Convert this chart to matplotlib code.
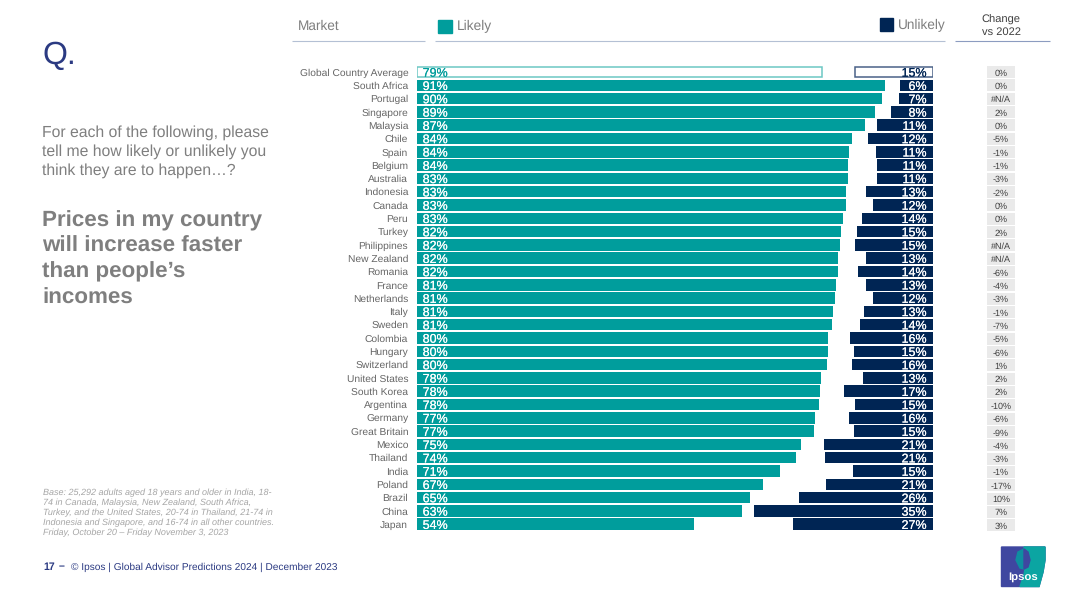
import matplotlib
matplotlib.use('Agg')
import matplotlib.pyplot as plt
import matplotlib.patheffects as pe
from matplotlib.patches import Polygon, Rectangle

plt.rcParams['font.family'] = ['Liberation Sans', 'DejaVu Sans']
plt.rcParams['text.hinting'] = 'no_hinting'
plt.rcParams['text.hinting_factor'] = 8

markets = ['Global Country Average', 'South Africa', 'Portugal', 'Singapore', 'Malaysia', 'Chile', 'Spain',
           'Belgium', 'Australia', 'Indonesia', 'Canada', 'Peru', 'Turkey', 'Philippines', 'New Zealand',
           'Romania', 'France', 'Netherlands', 'Italy', 'Sweden', 'Colombia', 'Hungary', 'Switzerland',
           'United States', 'South Korea', 'Argentina', 'Germany', 'Great Britain', 'Mexico', 'Thailand',
           'India', 'Poland', 'Brazil', 'China', 'Japan']

# bar lengths, they are a bit finer than the printed labels
likely = [78.8, 91.05, 90.5, 89.1, 87.2, 84.6, 84.0, 83.9, 83.9, 83.5, 83.5, 82.9, 82.5, 82.3, 81.9,
          81.9, 81.5, 81.3, 80.9, 80.7, 80.0, 80.0, 79.8, 78.6, 78.4, 78.2, 77.4, 77.2, 74.7, 73.7,
          70.6, 67.3, 64.8, 63.2, 53.9]
unlikely = [15.2, 6.4, 6.6, 8.2, 10.9, 12.6, 11.1, 10.9, 10.9, 13.0, 11.7, 13.8, 14.8, 15.2, 13.0,
            14.6, 13.0, 11.7, 13.4, 14.2, 16.1, 15.4, 15.8, 13.6, 17.3, 15.2, 16.3, 15.4, 21.2, 21.0,
            15.6, 20.8, 26.1, 34.8, 27.2]

likely_labels = [79, 91, 90, 89, 87, 84, 84, 84, 83, 83, 83, 83, 82, 82, 82, 82, 81, 81, 81, 81, 80, 80, 80,
                 78, 78, 78, 77, 77, 75, 74, 71, 67, 65, 63, 54]
unlikely_labels = [15, 6, 7, 8, 11, 12, 11, 11, 11, 13, 12, 14, 15, 15, 13, 14, 13, 12, 13, 14, 16, 15, 16,
                   13, 17, 15, 16, 15, 21, 21, 15, 21, 26, 35, 27]
change = ['0%', '0%', '#N/A', '2%', '0%', '-5%', '-1%', '-1%', '-3%', '-2%', '0%', '0%', '2%', '#N/A', '#N/A',
          '-6%', '-4%', '-3%', '-1%', '-7%', '-5%', '-6%', '1%', '2%', '2%', '-10%', '-6%', '-9%', '-4%', '-3%',
          '-1%', '-17%', '10%', '7%', '3%']

TEAL = '#009D9C'
NAVY = '#002554'
GREY = '#7F7F7F'
BLUE = '#2B3A82'
W, H = 1080, 607
PX_PER_PCT = 5.14


def px_axes(left, top, right, bottom):
    a = fig.add_axes([left / W, 1 - bottom / H, (right - left) / W, (bottom - top) / H])
    a.patch.set_alpha(0)
    a.axis('off')
    return a


# value labels look a touch heavier than the regular weight
def value_label(a, x, y, s, c, ha):
    t = a.text(x, y, s, color=c, fontsize=9, va='center', ha=ha)
    t.set_path_effects([pe.withStroke(linewidth=0.1, foreground=c)])


fig = plt.figure(figsize=(W / 100, H / 100), dpi=100)

# overlay in pixel coordinates for page furniture
page = px_axes(0, 0, W, H)
page.set_xlim(0, W)
page.set_ylim(H, 0)

n = len(markets)
rows = list(range(n))
top = 65.35   # first row centre is at 72, row pitch 13.3
bottom = top + n * 13.3

# likely bars grow from the left
ax1 = px_axes(417, top, 417 + 100 * PX_PER_PCT, bottom)
ax1.set_xlim(0, 100)
ax1.set_ylim(n - 0.5, -0.5)
ax1.barh(rows[1:], likely[1:], height=0.86, color=TEAL)
ax1.barh(rows[0], likely[0], height=0.78, facecolor='white', edgecolor='#6CC7C4', linewidth=1.1)
for i in rows:
    value_label(ax1, 1.1, i + 0.1, f'{likely_labels[i]}%', TEAL if i == 0 else 'white', 'left')
    ax1.text(-1.7, i + 0.08, markets[i], color='#666666', fontsize=7.35, va='center', ha='right')

# unlikely bars grow from the right
ax2 = px_axes(933 - 100 * PX_PER_PCT, top, 933, bottom)
ax2.set_xlim(100, 0)
ax2.set_ylim(n - 0.5, -0.5)
ax2.barh(rows[1:], unlikely[1:], height=0.86, color=NAVY)
ax2.barh(rows[0], unlikely[0], height=0.78, facecolor='white', edgecolor='#4A6288', linewidth=1.1)
for i in rows:
    value_label(ax2, 1.25, i + 0.1, f'{unlikely_labels[i]}%', NAVY if i == 0 else 'white', 'right')

# change vs 2022 column
ax3 = px_axes(980, 65.5, 1022, 532)
ax3.set_xlim(0, 1)
ax3.set_ylim(n - 0.5, -0.5)
ax3.barh(rows, [0.67] * n, left=0.165, height=0.9, color='#EAEAEA')
for i in rows:
    ax3.text(0.5, i + 0.08, change[i], color='#404040', fontsize=6.5, va='center', ha='center')

# header
page.text(298, 26.5, 'Market', color=GREY, fontsize=9.8, va='center')
page.add_patch(Rectangle((438, 19.5), 13.5, 13, color=TEAL))
page.text(457, 26.5, 'Likely', color=GREY, fontsize=9.9, va='center')
page.add_patch(Rectangle((879.5, 18), 13, 13, color=NAVY))
page.text(898, 25.5, 'Unlikely', color=GREY, fontsize=9.8, va='center')
page.text(1001, 26, 'Change\nvs 2022', color='#404040', fontsize=8, va='center', ha='center', linespacing=1.35)
for x0, x1, col in [(292, 425, '#B4C0D4'), (435, 945, '#B4C0D4'), (955, 1050, '#8C9CC0')]:
    page.plot([x0, x1], [41, 41], color=col, lw=0.8, solid_capstyle='butt')

# left column
page.text(42, 56, 'Q.', color=BLUE, fontsize=23, va='center')
page.text(42, 151.5, 'For each of the following, please\ntell me how likely or unlikely you\nthink they are to happen…?',
          color=GREY, fontsize=11.3, va='center', linespacing=1.38)
page.text(42, 259, 'Prices in my country\nwill increase faster\nthan people’s\nincomes',
          color=GREY, fontsize=16.1, fontweight='bold', va='center', linespacing=1.33)
page.text(43, 513, 'Base: 25,292 adults aged 18 years and older in India, 18-\n'
          '74 in Canada, Malaysia, New Zealand, South Africa,\n'
          'Turkey, and the United States, 20-74 in Thailand, 21-74 in\n'
          'Indonesia and Singapore, and 16-74 in all other countries.\n'
          'Friday, October 20 – Friday November 3, 2023',
          color='#A6A6A6', fontsize=6.5, style='italic', va='center', linespacing=1.25)

# footer
page.text(43, 567, '17', color=BLUE, fontsize=7.6, fontweight='bold', va='center')
page.text(59, 567, '–', color=BLUE, fontsize=7.6, fontweight='bold', va='center')
page.text(71, 567, '© Ipsos | Global Advisor Predictions 2024 | December 2023', color=BLUE, fontsize=7.3, va='center')

# logo
page.add_patch(Polygon([(1001.5, 547), (1045, 547), (1045, 560), (1043, 572), (1039, 586.5), (1001.5, 586.5)],
                       color='#3F47A0'))
page.add_patch(Polygon([(1024, 547), (1045, 547), (1045, 560), (1043, 572), (1039, 586.5), (1020, 586.5),
                        (1024, 575), (1026, 562)], color='#0BA5A2'))
page.add_patch(Polygon([(1024, 549), (1018, 552), (1016, 560), (1020, 568), (1024, 569)], color='#0E8FA0'))
page.add_patch(Polygon([(1024, 549), (1028, 552), (1030, 560), (1028, 567), (1024, 569)], color='#3F47A0'))
page.text(1023, 576.5, 'Ipsos', color='white', fontsize=8.2, fontweight='bold', va='center', ha='center')

fig.savefig('out.png', dpi=100)
